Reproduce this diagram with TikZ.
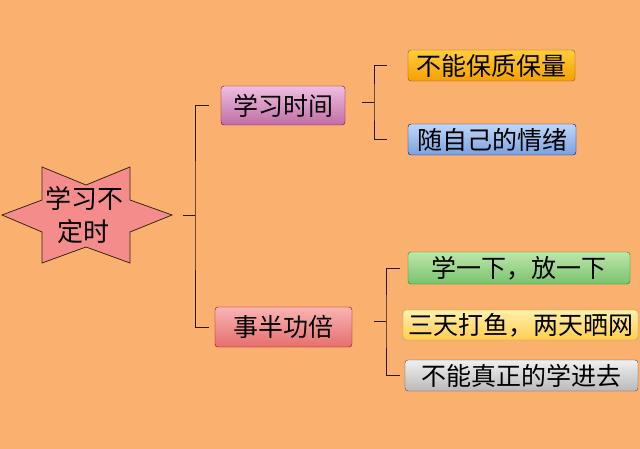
\documentclass[tikz,border=0pt]{standalone}
\usepackage{fontspec}
\setmainfont{Noto Sans CJK SC}
\usetikzlibrary{positioning}
\tikzset{
  topic/.style={draw=#1!60!black, rounded corners=3pt, inner sep=1pt, font=\fontsize{25}{27}\selectfont},
  line/.style={draw=black!80!brown, line width=0.9pt}
}
\begin{document}
\begin{tikzpicture}[x=1pt, y=-1pt]
    \fill[fill={rgb,255:red,250;green,176;blue,110}] (0,0) rectangle (640,449);
    \useasboundingbox (0,0) rectangle (640,449);

    % central star
    \draw[fill={rgb,255:red,244;green,140;blue,140}, draw=black!70!brown, line width=0.8pt]
      (2,215) -- (42,200) -- (42,167) -- (86,185) -- (130,167) -- (130,200) -- (172,215)
      -- (130,232) -- (130,263) -- (86,247) -- (42,263) -- (42,232) -- cycle;
    \node[align=center, font=\fontsize{26}{33}\selectfont] (root) at (84,215) {学习不\\定时};

    % first level
    \node[topic=purple, minimum width=124pt, minimum height=39pt, top color={rgb,255:red,240;green,190;blue,225}, bottom color={rgb,255:red,190;green,110;blue,165}] (time) at (283,105.5) {学习时间};
    \node[topic=red, minimum width=137pt, minimum height=40pt, top color={rgb,255:red,250;green,180;blue,180}, bottom color={rgb,255:red,230;green,110;blue,110}] (half) at (283.5,327) {事半功倍};

    % second level
    \node[topic=orange, minimum width=167pt, minimum height=31pt, top color={rgb,255:red,255;green,205;blue,60}, bottom color={rgb,255:red,245;green,160;blue,0}] (qual) at (491.5,65.5) {不能保质保量};
    \node[topic=blue, minimum width=168pt, minimum height=31pt, top color={rgb,255:red,190;green,215;blue,245}, bottom color={rgb,255:red,120;green,160;blue,225}] (mood) at (492,139.5) {随自己的情绪};
    \node[topic=green, minimum width=222pt, minimum height=32pt, top color={rgb,255:red,190;green,230;blue,170}, bottom color={rgb,255:red,120;green,195;blue,110}] (learn) at (519,268) {学一下，放一下};
    \node[topic=yellow, minimum width=235pt, minimum height=30pt, top color={rgb,255:red,255;green,240;blue,170}, bottom color={rgb,255:red,255;green,205;blue,80}] (fish) at (520.5,325) {三天打鱼，两天晒网};
    \node[topic=gray, minimum width=233pt, minimum height=31pt, top color={rgb,255:red,240;green,240;blue,240}, bottom color={rgb,255:red,185;green,185;blue,185}] (deep) at (521.5,375.5) {不能真正的学进去};

    % brackets
    \coordinate (j0) at (195,215);
    \draw[line] (183,215) -- (j0);
    \draw[line] ([xshift=-12pt]time.west) -| (j0) |- ([xshift=-6pt]half.west);
    \coordinate (j1) at (374,102);
    \draw[line] (j1) -- ++(-12,0);
    \draw[line] ([xshift=-21pt]qual.west) -| (j1) |- ([xshift=-21pt]mood.west);
    \coordinate (j2) at (386,321);
    \draw[line] (j2) -- ++(-12,0);
    \draw[line] ([xshift=-8pt]learn.west) -| (j2) |- ([xshift=-5pt]deep.west);
\end{tikzpicture}
\end{document}
